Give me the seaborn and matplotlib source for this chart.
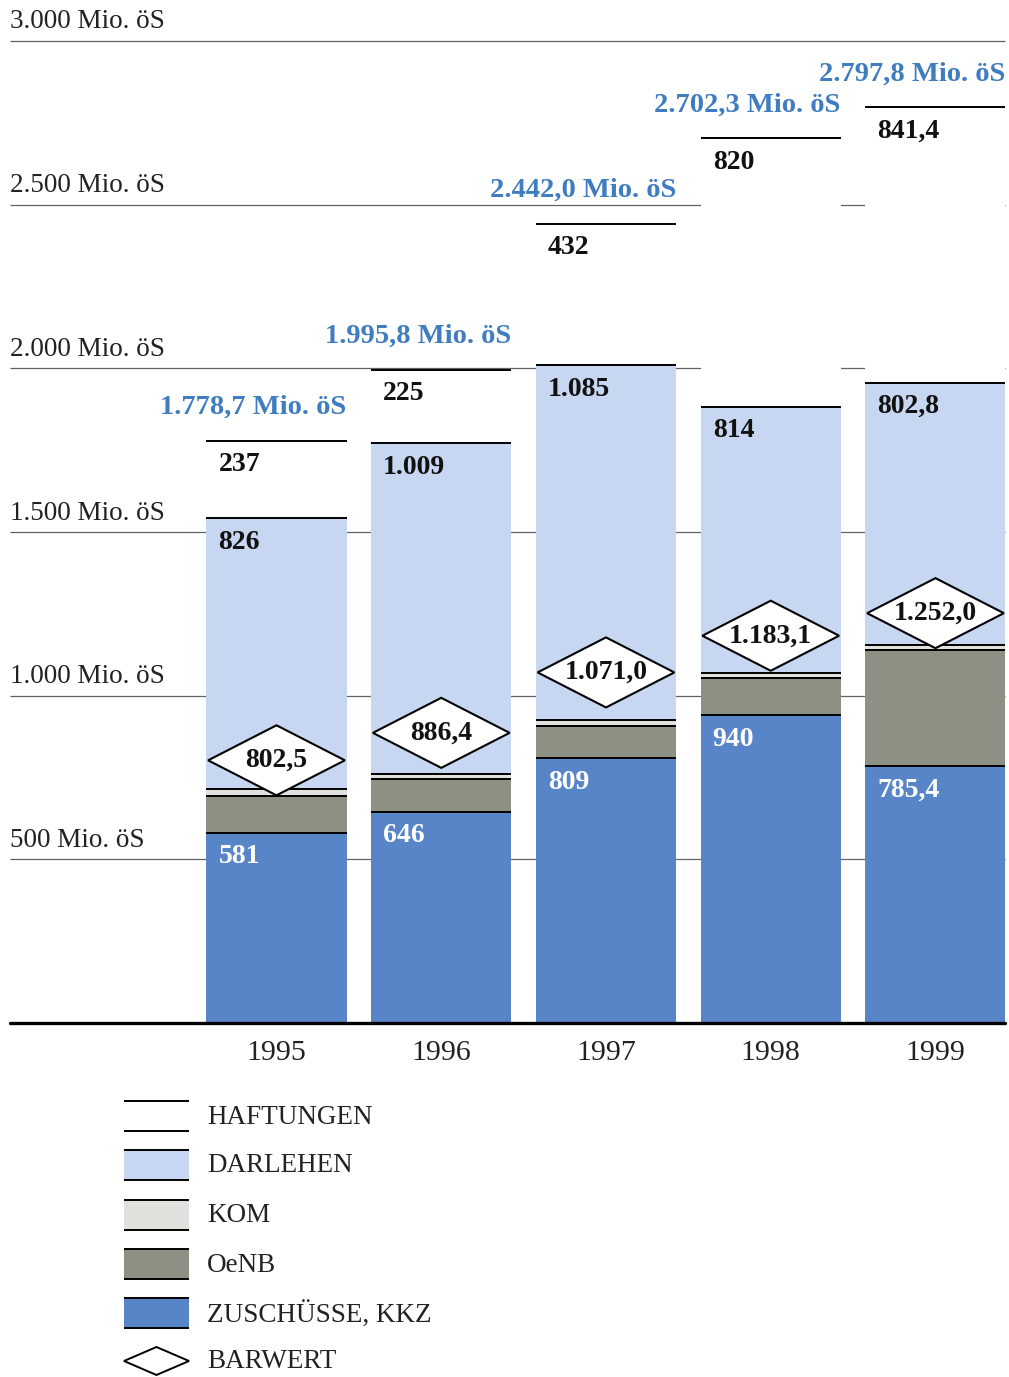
import matplotlib
matplotlib.use("Agg")
import matplotlib.pyplot as plt
from matplotlib.patches import Polygon, Rectangle
import numpy as np
import pandas as pd
import seaborn as sns

# ---- data (Mio. öS) -------------------------------------------------------
years = ["1995", "1996", "1997", "1998", "1999"]
zuschuesse = [581, 646, 809, 940, 785.4]
oenb = [114, 99, 97, 115, 355]
kom = [20.7, 16.8, 19, 13.3, 13.2]
darlehen = [826, 1009, 1085, 814, 802.8]
haftungen = [237, 225, 432, 820, 841.4]
barwert = [802.5, 886.4, 1071.0, 1183.1, 1252.0]
y_ticks = [500, 1000, 1500, 2000, 2500, 3000]

# ---- colours ----------------------------------------------------------------
C_ZUS = "#5885c7"
C_OENB = "#8d9183"
C_KOM = "#dfe2dc"
C_DARL = "#c8d7f1"
C_HAFT = "#ffffff"
C_TOTAL = "#3f7cc0"
C_GRID = "#626262"

sns.set_style("white")
plt.rcParams["font.family"] = ["Liberation Serif", "DejaVu Serif"]


def de(v, nd):
    """German number format: 1.778,7"""
    s = f"{v:,.{nd}f}"
    return s.replace(",", "_").replace(".", ",").replace("_", ".")


def seg(v):
    return de(v, 0 if float(v).is_integer() else 1)


W, H, DPI = 1009, 1377, 100
fig = plt.figure(figsize=(W / DPI, H / DPI), dpi=DPI)
fig.patch.set_facecolor("white")
ax = fig.add_axes([10 / W, 1 - 1023 / H, 995 / W, (1023 - 41) / H])

layers = [
    ("ZUSCHÜSSE, KKZ", zuschuesse, C_ZUS),
    ("OeNB", oenb, C_OENB),
    ("KOM", kom, C_KOM),
    ("DARLEHEN", darlehen, C_DARL),
    ("HAFTUNGEN", haftungen, C_HAFT),
]
cum = np.cumsum(np.array([l[1] for l in layers], dtype=float), axis=0)
totals = cum[-1]

BW = 0.85
df = pd.DataFrame({"year": years})
# draw cumulative heights from the top layer down so each layer covers the next
for i in range(len(layers) - 1, -1, -1):
    df["h"] = cum[i]
    sns.barplot(data=df, x="year", y="h", color=layers[i][2], saturation=1,
                width=BW, errorbar=None, linewidth=0, ax=ax, zorder=2)

xs = np.arange(len(years))
XMIN, XMAX = -1.6176, 4.422
ax.set_xlim(XMIN, XMAX)
ax.set_ylim(0, 3000)

# gridlines behind the bars
ax.hlines(y_ticks, XMIN, XMAX, colors=C_GRID, lw=0.9, zorder=1, clip_on=False)

# black rule on top of every segment
for i in range(len(layers)):
    ax.hlines(cum[i], xs - BW / 2, xs + BW / 2, colors="black", lw=1.4, zorder=3)

ax.axhline(0, color="black", lw=2.4, zorder=4, clip_on=False)

# y labels sitting on the gridlines
for t in y_ticks:
    ax.annotate(f"{de(t, 0)} Mio. öS", xy=(0, t), xycoords=ax.get_yaxis_transform(),
                xytext=(0, 9), textcoords="offset points", ha="left", va="baseline",
                fontsize=19.5, color="#222222")

# segment and total labels
for j, x in enumerate(xs):
    left = x - BW / 2
    right = x + BW / 2
    ax.annotate(seg(zuschuesse[j]), xy=(left, cum[0][j]), xytext=(8.6, -17.3),
                textcoords="offset points", ha="left", va="center", fontsize=20,
                fontweight="bold", color="white", zorder=6)
    ax.annotate(seg(darlehen[j]), xy=(left, cum[3][j]), xytext=(8.6, -17.3),
                textcoords="offset points", ha="left", va="center", fontsize=20,
                fontweight="bold", color="#111111", zorder=6)
    ax.annotate(seg(haftungen[j]), xy=(left, cum[4][j]), xytext=(8.6, -17.3),
                textcoords="offset points", ha="left", va="center", fontsize=20,
                fontweight="bold", color="#111111", zorder=6)
    ax.annotate(f"{de(totals[j], 1)} Mio. öS", xy=(right, totals[j]), xytext=(0, 24),
                textcoords="offset points", ha="right", va="center", fontsize=20.5,
                fontweight="bold", color=C_TOTAL, zorder=6)

# BARWERT diamonds
DHW, DHH = 0.415, 107
for j, x in enumerate(xs):
    v = barwert[j]
    ax.add_patch(Polygon([(x - DHW, v), (x, v + DHH), (x + DHW, v), (x, v - DHH)],
                         closed=True, facecolor="white", edgecolor="black", lw=1.5,
                         zorder=5))
    ax.text(x, v, de(v, 1), ha="center", va="center", fontsize=20,
            fontweight="bold", color="#111111", zorder=6)

ax.set_xticks(xs)
ax.set_xticklabels(years, fontsize=21.5, color="#222222")
ax.tick_params(axis="x", length=0, pad=12)
ax.set_yticks([])
ax.set_xlabel("")
ax.set_ylabel("")
for sp in ax.spines.values():
    sp.set_visible(False)

# ---- legend (pixel coordinates) -------------------------------------------
lax = fig.add_axes([0, 0, 1, 1])
lax.set_xlim(0, W)
lax.set_ylim(H, 0)
lax.axis("off")
lax.patch.set_alpha(0)

leg_items = [("HAFTUNGEN", C_HAFT, 1116), ("DARLEHEN", C_DARL, 1165),
             ("KOM", C_KOM, 1215), ("OeNB", C_OENB, 1264),
             ("ZUSCHÜSSE, KKZ", C_ZUS, 1313)]
SX0, SX1, SH = 124, 189, 30
for label, col, cy in leg_items:
    lax.add_patch(Rectangle((SX0, cy - SH / 2), SX1 - SX0, SH, facecolor=col,
                            edgecolor="none"))
    lax.hlines([cy - SH / 2, cy + SH / 2], SX0, SX1, colors="black", lw=1.4)
    lax.text(207, cy + 1, label, ha="left", va="center", fontsize=19.5, color="#222222")

cy = 1361
lax.add_patch(Polygon([(SX0, cy), ((SX0 + SX1) / 2, cy - 14), (SX1, cy),
                       ((SX0 + SX1) / 2, cy + 14)], closed=True, facecolor="white",
                      edgecolor="black", lw=1.4))
lax.text(207, cy + 1, "BARWERT", ha="left", va="center", fontsize=19.5, color="#222222")

fig.savefig("out.png", dpi=DPI)
